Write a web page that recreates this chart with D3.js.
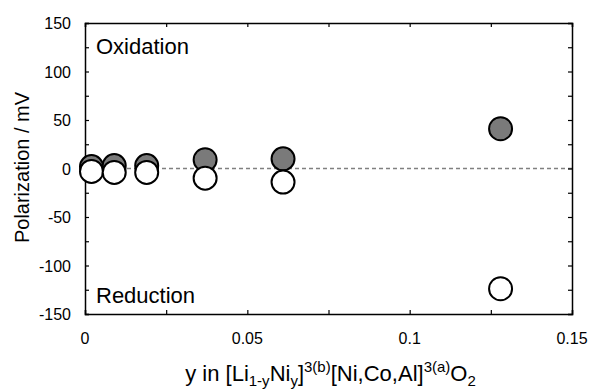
<!DOCTYPE html>
<html>
<head>
  <meta charset="UTF-8">
  <title>Polarization vs y</title>
  <style>
    body { margin: 0; background: #fff; }
    text { font-family: "Liberation Sans", Arial, sans-serif; fill: #000; }
  </style>
</head>
<body>
  <script src="https://cdn.jsdelivr.net/npm/d3@7"></script>
  <script>
    // composition y and polarization (mV)
    const yValues = [0.002, 0.009, 0.019, 0.037, 0.061, 0.128];
    const oxidation = [2, 3, 3, 9, 10, 41];
    const reduction = [-3, -4, -4, -10, -14, -124];
    const xTicks = [0, 0.05, 0.1, 0.15];
    const yTicks = [-150, -100, -50, 0, 50, 100, 150];

    const width = 594, height = 390;
    const margin = {top: 23, right: 22, bottom: 76, left: 85};

    const svg = d3.select("body").append("svg")
      .attr("width", width)
      .attr("height", height);

    const x = d3.scaleLinear().domain([0, 0.15]).range([margin.left, width - margin.right]);
    const y = d3.scaleLinear().domain([-150, 150]).range([height - margin.bottom, margin.top]);

    // dashed zero line
    svg.append("line")
      .attr("x1", x(0)).attr("x2", x(0.15))
      .attr("y1", y(0)).attr("y2", y(0))
      .attr("stroke", "#808080")
      .attr("stroke-width", 1.3)
      .attr("stroke-dasharray", "4,3");

    // axes, ticks pointing inward
    const tickLen = 4;
    const minorX = d3.range(0, 0.1501, 0.025);
    const minorY = d3.range(-150, 151, 25);

    svg.append("g")
      .attr("transform", `translate(0,${y(-150)})`)
      .call(d3.axisBottom(x).tickValues(minorX).tickSize(-tickLen).tickFormat(""));
    svg.append("g")
      .attr("transform", `translate(0,${y(150)})`)
      .call(d3.axisTop(x).tickValues(minorX).tickSize(-tickLen).tickFormat(""));
    svg.append("g")
      .attr("transform", `translate(${x(0)},0)`)
      .call(d3.axisLeft(y).tickValues(minorY).tickSize(-tickLen).tickFormat(""));
    svg.append("g")
      .attr("transform", `translate(${x(0.15)},0)`)
      .call(d3.axisRight(y).tickValues(minorY).tickSize(-tickLen).tickFormat(""));

    svg.selectAll(".domain").attr("stroke", "#000").attr("stroke-width", 1.5);
    svg.selectAll(".tick line").attr("stroke", "#000").attr("stroke-width", 1.2);

    // tick labels
    svg.append("g").selectAll("text")
      .data(xTicks)
      .join("text")
      .attr("x", d => x(d))
      .attr("y", y(-150) + 30)
      .attr("text-anchor", "middle")
      .attr("font-size", 16)
      .text(d => d);

    svg.append("g").selectAll("text")
      .data(yTicks)
      .join("text")
      .attr("x", x(0) - 14)
      .attr("y", d => y(d) + 6)
      .attr("text-anchor", "end")
      .attr("font-size", 16)
      .text(d => d);

    // points
    const r = 11.5;
    svg.append("g").selectAll("circle")
      .data(yValues.map((v, i) => [v, oxidation[i]]))
      .join("circle")
      .attr("cx", d => x(d[0]))
      .attr("cy", d => y(d[1]))
      .attr("r", r)
      .attr("fill", "#7a7a7a")
      .attr("stroke", "#000")
      .attr("stroke-width", 2);

    svg.append("g").selectAll("circle")
      .data(yValues.map((v, i) => [v, reduction[i]]))
      .join("circle")
      .attr("cx", d => x(d[0]))
      .attr("cy", d => y(d[1]))
      .attr("r", r)
      .attr("fill", "#fff")
      .attr("stroke", "#000")
      .attr("stroke-width", 2);

    // annotations
    svg.append("text")
      .attr("x", x(0) + 11).attr("y", y(150) + 31)
      .attr("font-size", 22)
      .text("Oxidation");
    svg.append("text")
      .attr("x", x(0) + 11).attr("y", y(-150) - 11)
      .attr("font-size", 22)
      .text("Reduction");

    // y axis title
    svg.append("text")
      .attr("transform", `translate(29,${(y(150) + y(-150)) / 2 - 1}) rotate(-90)`)
      .attr("text-anchor", "middle")
      .attr("font-size", 20)
      .text("Polarization / mV");

    // x axis title with sub/superscripts
    const xt = svg.append("text")
      .attr("x", (x(0) + x(0.15)) / 2 + 2)
      .attr("y", height - 9)
      .attr("text-anchor", "middle")
      .attr("font-size", 22);
    const parts = [
      ["y in [Li", 0], ["1-y", 1], ["Ni", 0], ["y", 1], ["]", 0], ["3(b)", -1],
      ["[Ni,Co,Al]", 0], ["3(a)", -1], ["O", 0], ["2", 1]
    ];
    let shift = 0;
    parts.forEach(([t, k]) => {
      const target = k === 1 ? 5 : k === -1 ? -9 : 0;
      xt.append("tspan")
        .attr("dy", target - shift)
        .attr("font-size", k === 0 ? 22 : 15)
        .text(t);
      shift = target;
    });
  </script>
</body>
</html>
